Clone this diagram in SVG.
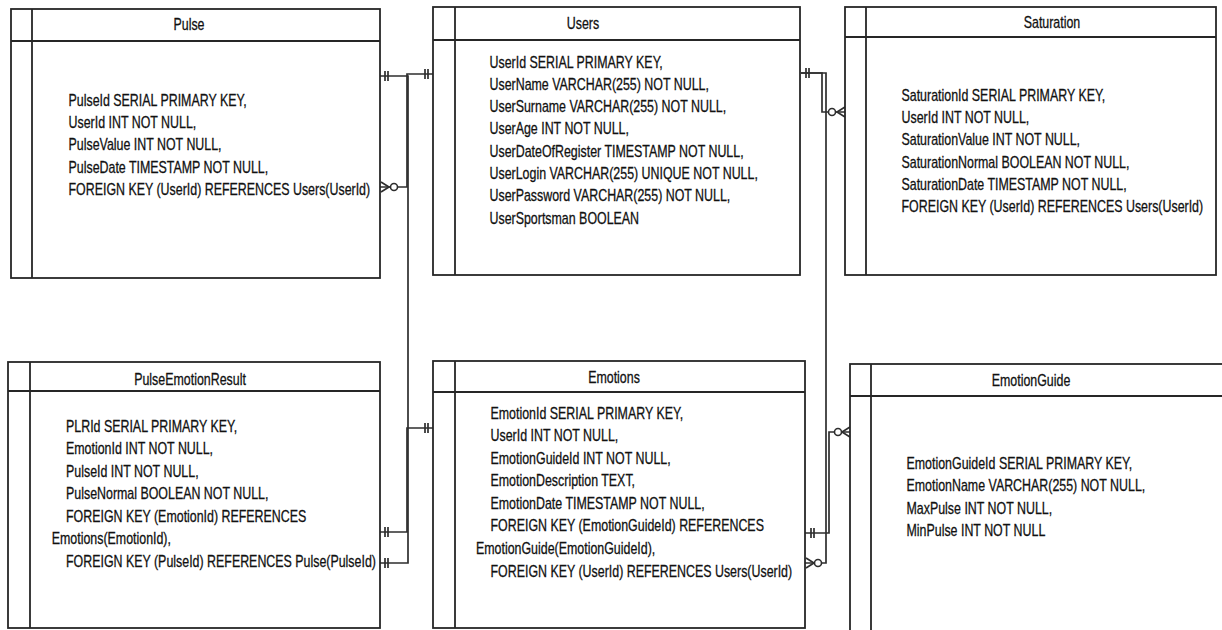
<svg xmlns="http://www.w3.org/2000/svg" width="1222" height="630" viewBox="0 0 1222 630">
<style>
.box{fill:#fff;stroke:#262626;stroke-width:1.8}
.sep{stroke:#262626;stroke-width:1.8;fill:none}
.t{font-family:"Liberation Sans",Arial,sans-serif;font-size:17px;fill:#111;stroke:#111;stroke-width:0.3}
.ttl{font-family:"Liberation Sans",Arial,sans-serif;font-size:17px;fill:#111;stroke:#111;stroke-width:0.3;text-anchor:middle}
.c{fill:none;stroke:#2e2e2e;stroke-width:1.7}
.ci{fill:#fff;stroke:#2e2e2e;stroke-width:1.6}
</style>
<rect width="1222" height="630" fill="#fff"/>

<g id="connectors">
  <!-- Users - Pulse -->
  <path class="c" d="M433,74 H407 V187 H380"/>
  <path class="c" d="M425,69 V79 M428,69 V79"/>
  <path class="c" d="M381,182 L389,187 L381,192"/>
  <circle class="ci" cx="394" cy="187" r="3.5"/>
  <!-- Pulse - PulseEmotionResult -->
  <path class="c" d="M380,76 H408 V563 H380"/>
  <path class="c" d="M385,71 V81 M388,71 V81"/>
  <path class="c" d="M385,558 V568 M388,558 V568"/>
  <!-- Emotions - PulseEmotionResult -->
  <path class="c" d="M433,428 H407 V532 H380"/>
  <path class="c" d="M425,423 V433 M428,423 V433"/>
  <path class="c" d="M385,527 V537 M388,527 V537"/>
  <!-- Users - Saturation -->
  <path class="c" d="M801,73 H822 V112 H845"/>
  <path class="c" d="M806,68 V78 M809,68 V78"/>
  <path class="c" d="M845,107 L837,112 L845,117"/>
  <circle class="ci" cx="832" cy="112" r="3.5"/>
  <!-- Users - Emotions -->
  <path class="c" d="M801,73 H826 V563 H805"/>
  <path class="c" d="M806,558 L814,563 L806,568"/>
  <circle class="ci" cx="818" cy="563" r="3.5"/>
  <!-- Emotions - EmotionGuide -->
  <path class="c" d="M805,533 H829 V432 H850"/>
  <path class="c" d="M811,528 V538 M814,528 V538"/>
  <path class="c" d="M850,427 L842,432 L850,437"/>
  <circle class="ci" cx="838" cy="432" r="3.5"/>
</g>

<g id="node-pulse">
  <rect class="box" x="11" y="9" width="369" height="269"/>
  <path class="sep" d="M11,41 H380 M32,9 V278"/>
  <text class="ttl" transform="translate(189,30) scale(0.73,1)">Pulse</text>
  <text class="t" transform="translate(68.5,106) scale(0.73,1)">
    <tspan x="0" y="0">PulseId SERIAL PRIMARY KEY,</tspan>
    <tspan x="0" y="22.25">UserId INT NOT NULL,</tspan>
    <tspan x="0" y="44.5">PulseValue INT NOT NULL,</tspan>
    <tspan x="0" y="66.75">PulseDate TIMESTAMP NOT NULL,</tspan>
    <tspan x="0" y="89">FOREIGN KEY (UserId) REFERENCES Users(UserId)</tspan>
  </text>
</g>

<g id="node-users">
  <rect class="box" x="433" y="7" width="367" height="268"/>
  <path class="sep" d="M433,40 H800 M455,7 V275"/>
  <text class="ttl" transform="translate(583,29) scale(0.73,1)">Users</text>
  <text class="t" transform="translate(489.5,67.5) scale(0.73,1)">
    <tspan x="0" y="0">UserId SERIAL PRIMARY KEY,</tspan>
    <tspan x="0" y="22.3">UserName VARCHAR(255) NOT NULL,</tspan>
    <tspan x="0" y="44.6">UserSurname VARCHAR(255) NOT NULL,</tspan>
    <tspan x="0" y="66.9">UserAge INT NOT NULL,</tspan>
    <tspan x="0" y="89.2">UserDateOfRegister TIMESTAMP NOT NULL,</tspan>
    <tspan x="0" y="111.5">UserLogin VARCHAR(255) UNIQUE NOT NULL,</tspan>
    <tspan x="0" y="133.8">UserPassword VARCHAR(255) NOT NULL,</tspan>
    <tspan x="0" y="156.1">UserSportsman BOOLEAN</tspan>
  </text>
</g>

<g id="node-saturation">
  <rect class="box" x="845" y="7" width="371" height="268"/>
  <path class="sep" d="M845,37 H1216 M866,7 V275"/>
  <text class="ttl" transform="translate(1052,28) scale(0.73,1)">Saturation</text>
  <text class="t" transform="translate(901.5,101) scale(0.73,1)">
    <tspan x="0" y="0">SaturationId SERIAL PRIMARY KEY,</tspan>
    <tspan x="0" y="22.2">UserId INT NOT NULL,</tspan>
    <tspan x="0" y="44.4">SaturationValue INT NOT NULL,</tspan>
    <tspan x="0" y="66.6">SaturationNormal BOOLEAN NOT NULL,</tspan>
    <tspan x="0" y="88.8">SaturationDate TIMESTAMP NOT NULL,</tspan>
    <tspan x="0" y="111">FOREIGN KEY (UserId) REFERENCES Users(UserId)</tspan>
  </text>
</g>

<g id="node-pulseemotionresult">
  <rect class="box" x="8" y="362" width="372" height="266"/>
  <path class="sep" d="M8,391 H380 M30,362 V628"/>
  <text class="ttl" transform="translate(190,385) scale(0.73,1)">PulseEmotionResult</text>
  <text class="t" transform="translate(66,432) scale(0.73,1)">
    <tspan x="0" y="0">PLRId SERIAL PRIMARY KEY,</tspan>
    <tspan x="0" y="22.5">EmotionId INT NOT NULL,</tspan>
    <tspan x="0" y="45">PulseId INT NOT NULL,</tspan>
    <tspan x="0" y="67.5">PulseNormal BOOLEAN NOT NULL,</tspan>
    <tspan x="0" y="90">FOREIGN KEY (EmotionId) REFERENCES</tspan>
    <tspan x="-19.6" y="112.5">Emotions(EmotionId),</tspan>
    <tspan x="0" y="135">FOREIGN KEY (PulseId) REFERENCES Pulse(PulseId)</tspan>
  </text>
</g>

<g id="node-emotions">
  <rect class="box" x="433" y="361" width="372" height="267"/>
  <path class="sep" d="M433,392 H805 M455,361 V628"/>
  <text class="ttl" transform="translate(614,383) scale(0.73,1)">Emotions</text>
  <text class="t" transform="translate(490.5,418.5) scale(0.73,1)">
    <tspan x="0" y="0">EmotionId SERIAL PRIMARY KEY,</tspan>
    <tspan x="0" y="22.6">UserId INT NOT NULL,</tspan>
    <tspan x="0" y="45.2">EmotionGuideId INT NOT NULL,</tspan>
    <tspan x="0" y="67.8">EmotionDescription TEXT,</tspan>
    <tspan x="0" y="90.4">EmotionDate TIMESTAMP NOT NULL,</tspan>
    <tspan x="0" y="113">FOREIGN KEY (EmotionGuideId) REFERENCES</tspan>
    <tspan x="-19.9" y="135.6">EmotionGuide(EmotionGuideId),</tspan>
    <tspan x="0" y="158.2">FOREIGN KEY (UserId) REFERENCES Users(UserId)</tspan>
  </text>
</g>

<g id="node-emotionguide">
  <rect class="box" x="850" y="364" width="376" height="270"/>
  <path class="sep" d="M850,396 H1222 M871,364 V630"/>
  <text class="ttl" transform="translate(1031,386) scale(0.73,1)">EmotionGuide</text>
  <text class="t" transform="translate(906.5,469) scale(0.73,1)">
    <tspan x="0" y="0">EmotionGuideId SERIAL PRIMARY KEY,</tspan>
    <tspan x="0" y="22.3">EmotionName VARCHAR(255) NOT NULL,</tspan>
    <tspan x="0" y="44.6">MaxPulse INT NOT NULL,</tspan>
    <tspan x="0" y="66.9">MinPulse INT NOT NULL</tspan>
  </text>
</g>
</svg>
